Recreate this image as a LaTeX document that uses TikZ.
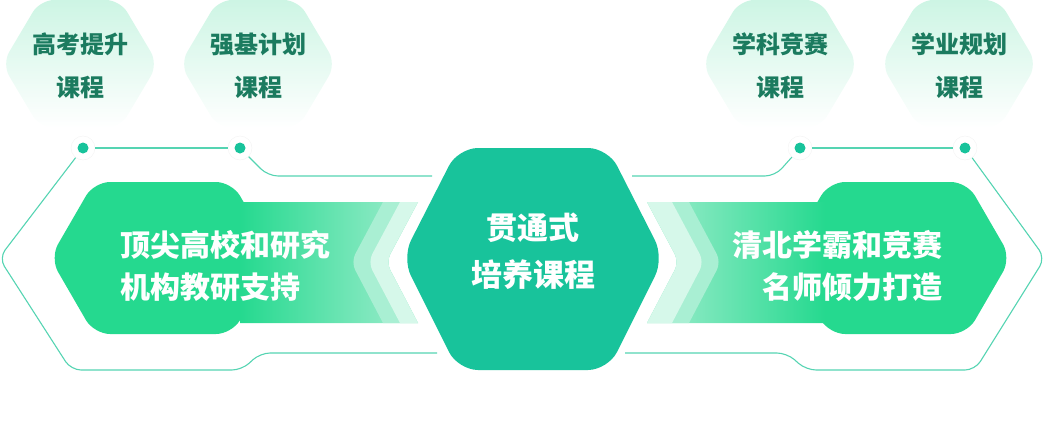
\documentclass[tikz,border=0pt]{standalone}
\usepackage{fontspec}
\newfontfamily\cjk{Noto Sans CJK SC}
\usetikzlibrary{calc}

\definecolor{hexgreen}{HTML}{25D98F}
\definecolor{hubteal}{HTML}{18C39B}
\definecolor{tipmint}{HTML}{CDF5E4}
\definecolor{tiptext}{HTML}{1B7B5F}
\definecolor{wire}{HTML}{55D4B2}
\definecolor{stripeA}{HTML}{A9EFD3}
\definecolor{stripeB}{HTML}{D6F8EA}
\definecolor{bandend}{HTML}{A0EDCE}

\begin{document}
\begin{tikzpicture}[x=1pt, y=-1pt,
    tiphex/.style={top color=tipmint, bottom color=white, rounded corners=14pt},
    tiplabel/.style={align=center, text=tiptext, inner sep=0pt,
        font=\cjk\bfseries\fontsize{24}{43}\selectfont},
    biglabel/.style={text=white, inner sep=0pt,
        font=\cjk\bfseries\fontsize{30}{42}\selectfont},
    wirepath/.style={draw=wire, line width=1.1pt, rounded corners=10pt},
    joint/.style={circle, minimum size=24pt, inner sep=0pt, fill=white,
        draw=black!4, line width=0.5pt,
        path picture={\fill[hubteal] (path picture bounding box.center) circle (5.5pt);}}]
    \useasboundingbox (0,0) rectangle (1044,423);

    % course hexagons on top
    \foreach \cx in {80,258,780,959}
        \path[tiphex] (\cx-78,64) -- (\cx-40,0) -- (\cx+40,0) -- (\cx+78,64)
            -- (\cx+40,128) -- (\cx-40,128) -- cycle;
	\node (gk) at (80, 66)  [tiplabel] {高考提升\\课程};
	\node (qj) at (258, 66) [tiplabel] {强基计划\\课程};
	\node (xk) at (780, 66) [tiplabel] {学科竞赛\\课程};
	\node (xy) at (959, 66) [tiplabel] {学业规划\\课程};

    % wire frame
	\node (jA) at (83, 148)  [joint] {};
	\node (jB) at (240, 148) [joint] {};
	\node (jC) at (800, 148) [joint] {};
	\node (jD) at (965, 148) [joint] {};
	\coordinate (wTL) at (432, 176);
	\coordinate (wBL) at (437, 353);
	\coordinate (wTR) at (632, 176);
	\coordinate (wBR) at (625, 353);

	\draw [wirepath] (jA) -- (jB);
	\draw [wirepath] (jC) -- (jD);
	\draw [wirepath] (jB) -- (268, 176) -- (wTL);
	\draw [wirepath] (jA) -- (-1, 258) -- (71, 370) -- (242, 370) -- (260, 353) -- (wBL);
	\draw [wirepath] (jC) -- (775, 176) -- (wTR);
	\draw [wirepath] (jD) -- (1045, 258) -- (975, 370) -- (806, 370) -- (787, 353) -- (wBR);

    % left block
	\fill [hexgreen, rounded corners=16pt] (50, 258) -- (94, 182) -- (232, 182)
	    -- (276, 258) -- (232, 334) -- (94, 334) -- cycle;
	\path [left color=hexgreen, right color=bandend] (240, 202) -- (418, 202)
	    [rounded corners=9pt] -- (386, 262) [sharp corners] -- (418, 323) -- (240, 323) -- cycle;
	\fill [stripeA] (383, 202) [rounded corners=9pt] -- (351, 262) [sharp corners] -- (383, 323)
	    -- (418, 323) [rounded corners=9pt] -- (386, 262) [sharp corners] -- (418, 202) -- cycle;
	\fill [stripeB] (400, 202) [rounded corners=9pt] -- (368, 262) [sharp corners] -- (400, 323)
	    -- (418, 323) [rounded corners=9pt] -- (386, 262) [sharp corners] -- (418, 202) -- cycle;

    % right block
	\fill [hexgreen, rounded corners=16pt] (1011, 258) -- (967, 182) -- (829, 182)
	    -- (785, 258) -- (829, 334) -- (967, 334) -- cycle;
	\path [left color=bandend, right color=hexgreen] (647, 202)
	    [rounded corners=9pt] -- (679, 262) [sharp corners] -- (647, 323) -- (825, 323) -- (825, 202) -- cycle;
	\fill [stripeA] (689, 202) [rounded corners=9pt] -- (721, 262) [sharp corners] -- (689, 323)
	    -- (647, 323) [rounded corners=9pt] -- (679, 262) [sharp corners] -- (647, 202) -- cycle;
	\fill [stripeB] (672, 202) [rounded corners=9pt] -- (704, 262) [sharp corners] -- (672, 323)
	    -- (647, 323) [rounded corners=9pt] -- (679, 262) [sharp corners] -- (647, 202) -- cycle;

    % hub
	\fill [hubteal, rounded corners=20pt] (402, 258) -- (458, 148) -- (608, 148)
	    -- (664, 258) -- (608, 370) -- (458, 370) -- cycle;

	\node (lsup) at (120, 266) [biglabel, align=left, anchor=west] {顶尖高校和研究\\机构教研支持};
	\node (rsup) at (943, 266) [biglabel, align=right, anchor=east] {清北学霸和竞赛\\名师倾力打造};
	\node (hub) at (533, 251) [biglabel, align=center,
	    font=\cjk\bfseries\fontsize{31}{47}\selectfont] {贯通式\\培养课程};
\end{tikzpicture}
\end{document}
